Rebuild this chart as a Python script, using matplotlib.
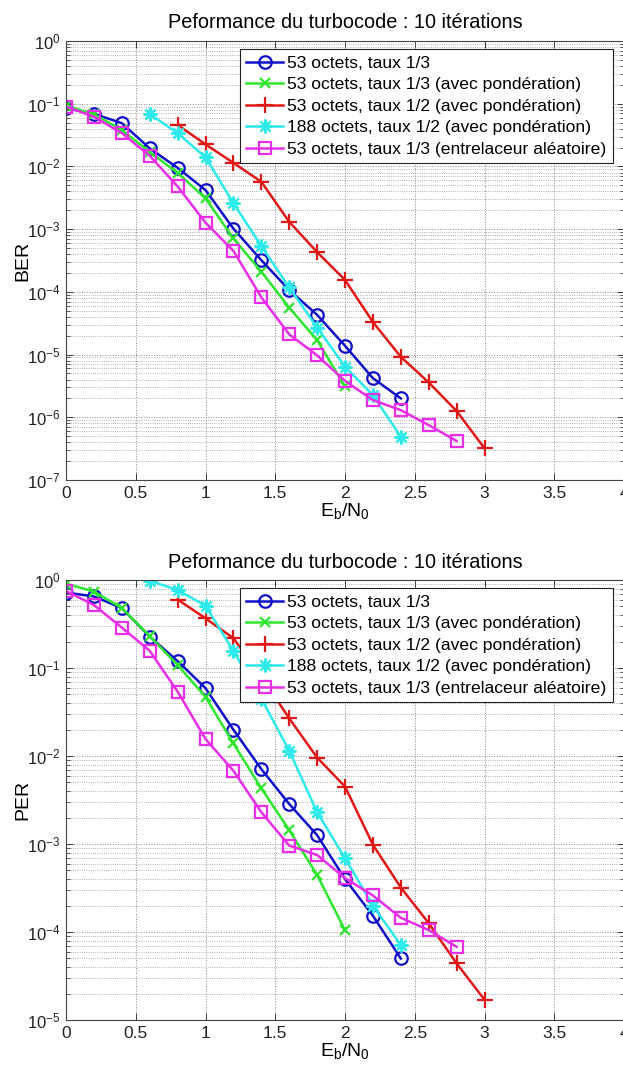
import matplotlib
matplotlib.use("Agg")
import matplotlib.pyplot as plt
import numpy as np
from matplotlib.ticker import LogLocator, FixedLocator, FuncFormatter, NullFormatter

plt.rcParams['font.family'] = ['Liberation Sans', 'DejaVu Sans']
plt.rcParams['mathtext.fontset'] = 'custom'
plt.rcParams['mathtext.rm'] = 'Liberation Sans'
plt.rcParams['mathtext.it'] = 'Liberation Sans:italic'

title = "Peformance du turbocode : 10 itérations"
labels = ["53 octets, taux 1/3",
          "53 octets, taux 1/3 (avec pondération)",
          "53 octets, taux 1/2 (avec pondération)",
          "188 octets, taux 1/2 (avec pondération)",
          "53 octets, taux 1/3 (entrelaceur aléatoire)"]

# ---- BER data ----
ber_x_blue = [0, 0.2, 0.4, 0.6, 0.8, 1.0, 1.2, 1.4, 1.6, 1.8, 2.0, 2.2, 2.4]
ber_blue = [0.085, 0.069, 0.049, 0.0194, 0.0095, 0.0042, 1.02e-3, 3.2e-4, 1.07e-4, 4.3e-5, 1.38e-5, 4.2e-6, 2.0e-6]
ber_x_green = [0, 0.2, 0.4, 0.6, 0.8, 1.0, 1.2, 1.4, 1.6, 1.8, 2.0]
ber_green = [0.093, 0.068, 0.038, 0.017, 0.0079, 0.0031, 7.1e-4, 2.1e-4, 5.6e-5, 1.7e-5, 3.1e-6]
ber_x_red = [0.8, 1.0, 1.2, 1.4, 1.6, 1.8, 2.0, 2.2, 2.4, 2.6, 2.8, 3.0]
ber_red = [0.046, 0.0225, 0.0114, 0.0057, 1.31e-3, 4.3e-4, 1.55e-4, 3.3e-5, 9.2e-6, 3.6e-6, 1.26e-6, 3.2e-7]
ber_x_cyan = [0.6, 0.8, 1.0, 1.2, 1.4, 1.6, 1.8, 2.0, 2.2, 2.4]
ber_cyan = [0.0686, 0.034, 0.014, 0.0026, 5.4e-4, 1.18e-4, 2.7e-5, 6.4e-6, 2.25e-6, 4.9e-7]
ber_x_mag = [0, 0.2, 0.4, 0.6, 0.8, 1.0, 1.2, 1.4, 1.6, 1.8, 2.0, 2.2, 2.4, 2.6, 2.8]
ber_mag = [0.09, 0.062, 0.034, 0.0148, 0.0048, 1.27e-3, 4.5e-4, 8.2e-5, 2.1e-5, 9.7e-6, 3.8e-6, 1.88e-6, 1.3e-6, 7.5e-7, 4.2e-7]

# ---- PER data ----
per_x_blue = [0, 0.2, 0.4, 0.6, 0.8, 1.0, 1.2, 1.4, 1.6, 1.8, 2.0, 2.2, 2.4]
per_blue = [0.72, 0.65, 0.48, 0.227, 0.12, 0.059, 0.0199, 0.0071, 2.85e-3, 1.26e-3, 4.0e-4, 1.53e-4, 5.0e-5]
per_x_green = [0, 0.2, 0.4, 0.6, 0.8, 1.0, 1.2, 1.4, 1.6, 1.8, 2.0]
per_green = [0.91, 0.74, 0.48, 0.23, 0.108, 0.047, 0.0139, 0.0043, 1.44e-3, 4.45e-4, 1.05e-4]
per_x_red = [0.8, 1.0, 1.2, 1.4, 1.6, 1.8, 2.0, 2.2, 2.4, 2.6, 2.8, 3.0]
per_red = [0.6, 0.367, 0.218, 0.08, 0.0268, 0.0096, 0.0045, 9.8e-4, 3.2e-4, 1.26e-4, 4.4e-5, 1.7e-5]
per_x_cyan = [0.6, 0.8, 1.0, 1.2, 1.4, 1.6, 1.8, 2.0, 2.2, 2.4]
per_cyan = [0.98, 0.77, 0.51, 0.156, 0.045, 0.0115, 2.3e-3, 6.9e-4, 2.0e-4, 7.1e-5]
per_x_mag = [0, 0.2, 0.4, 0.6, 0.8, 1.0, 1.2, 1.4, 1.6, 1.8, 2.0, 2.2, 2.4, 2.6, 2.8]
per_mag = [0.75, 0.52, 0.288, 0.157, 0.054, 0.0156, 0.0068, 2.3e-3, 9.6e-4, 7.5e-4, 4.1e-4, 2.6e-4, 1.45e-4, 1.05e-4, 6.8e-5]

x_ticks = [0, 0.5, 1, 1.5, 2, 2.5, 3, 3.5, 4]
x_tick_labels = ["0", "0.5", "1", "1.5", "2", "2.5", "3", "3.5", "4"]

colors = ['#1010c8', '#2ee62e', '#e01818', '#2eeaea', '#e82ee8']
markers = ['o', 'x', '+', (8, 2, 0), 's']
msizes = [9, 7.5, 11, 10, 8.5]

W, H = 623, 1066
fig = plt.figure(figsize=(W / 100, H / 100), dpi=100)

def make_axes(top_px, bot_px):
    left = 66 / W
    right = 624 / W
    return fig.add_axes([left, 1 - bot_px / H, right - left, (bot_px - top_px) / H])

def style(ax, ylo, yhi, ylabel):
    ax.set_yscale('log')
    ax.set_xlim(0, 4)
    ax.set_ylim(ylo, yhi)
    ax.xaxis.set_major_locator(FixedLocator(x_ticks))
    ax.set_xticklabels(x_tick_labels)
    ax.yaxis.set_major_locator(LogLocator(base=10, numticks=20))
    ax.yaxis.set_minor_locator(LogLocator(base=10, subs=np.arange(2, 10), numticks=20))
    ax.yaxis.set_minor_formatter(NullFormatter())
    ax.yaxis.set_major_formatter(FuncFormatter(lambda v, p: r'$10^{%d}$' % int(round(np.log10(v)))))
    ax.tick_params(which='both', direction='in', top=True, right=True, colors='#222222')
    ax.tick_params(axis='x', labelsize=12.5)
    ax.tick_params(axis='y', labelsize=12)
    ax.tick_params(which='major', length=5, width=0.6, pad=4)
    ax.tick_params(which='minor', length=3, width=0.5)
    ax.grid(True, which='major', linestyle=':', color='#888888', linewidth=0.7)
    ax.grid(True, which='minor', axis='y', linestyle=':', color='#999999', linewidth=0.6)
    ax.set_axisbelow(True)
    for s in ax.spines.values():
        s.set_color('#444444')
        s.set_linewidth(0.8)
    ax.set_title(title, fontsize=14.3, pad=9)
    ax.set_xlabel(r'E$_\mathrm{b}$/N$_\mathrm{0}$', fontsize=14, labelpad=0)
    ax.set_ylabel(ylabel, fontsize=14)
    ax.yaxis.set_label_coords(-0.062, 0.5)

def draw(ax, series):
    for (xs, ys), c, m, ms, lab in zip(series, colors, markers, msizes, labels):
        ax.plot(xs, ys, color=c, marker=m, markersize=ms, markerfacecolor='none',
                markeredgecolor=c, markeredgewidth=1.6, linewidth=1.8, label=lab)
    leg = ax.legend(loc='upper right', bbox_to_anchor=(0.980, 0.981), borderaxespad=0,
                    fontsize=12.6, fancybox=False, framealpha=1, edgecolor='#222222',
                    handlelength=2.1, handletextpad=0.25, labelspacing=0.36, borderpad=0.35)
    leg.get_frame().set_linewidth(0.8)

ax1 = make_axes(41, 480)
draw(ax1, [(ber_x_blue, ber_blue), (ber_x_green, ber_green), (ber_x_red, ber_red),
           (ber_x_cyan, ber_cyan), (ber_x_mag, ber_mag)])
style(ax1, 1e-7, 1, 'BER')

ax2 = make_axes(580, 1020)
draw(ax2, [(per_x_blue, per_blue), (per_x_green, per_green), (per_x_red, per_red),
           (per_x_cyan, per_cyan), (per_x_mag, per_mag)])
style(ax2, 1e-5, 1, 'PER')

fig.savefig('out.png', dpi=100)
